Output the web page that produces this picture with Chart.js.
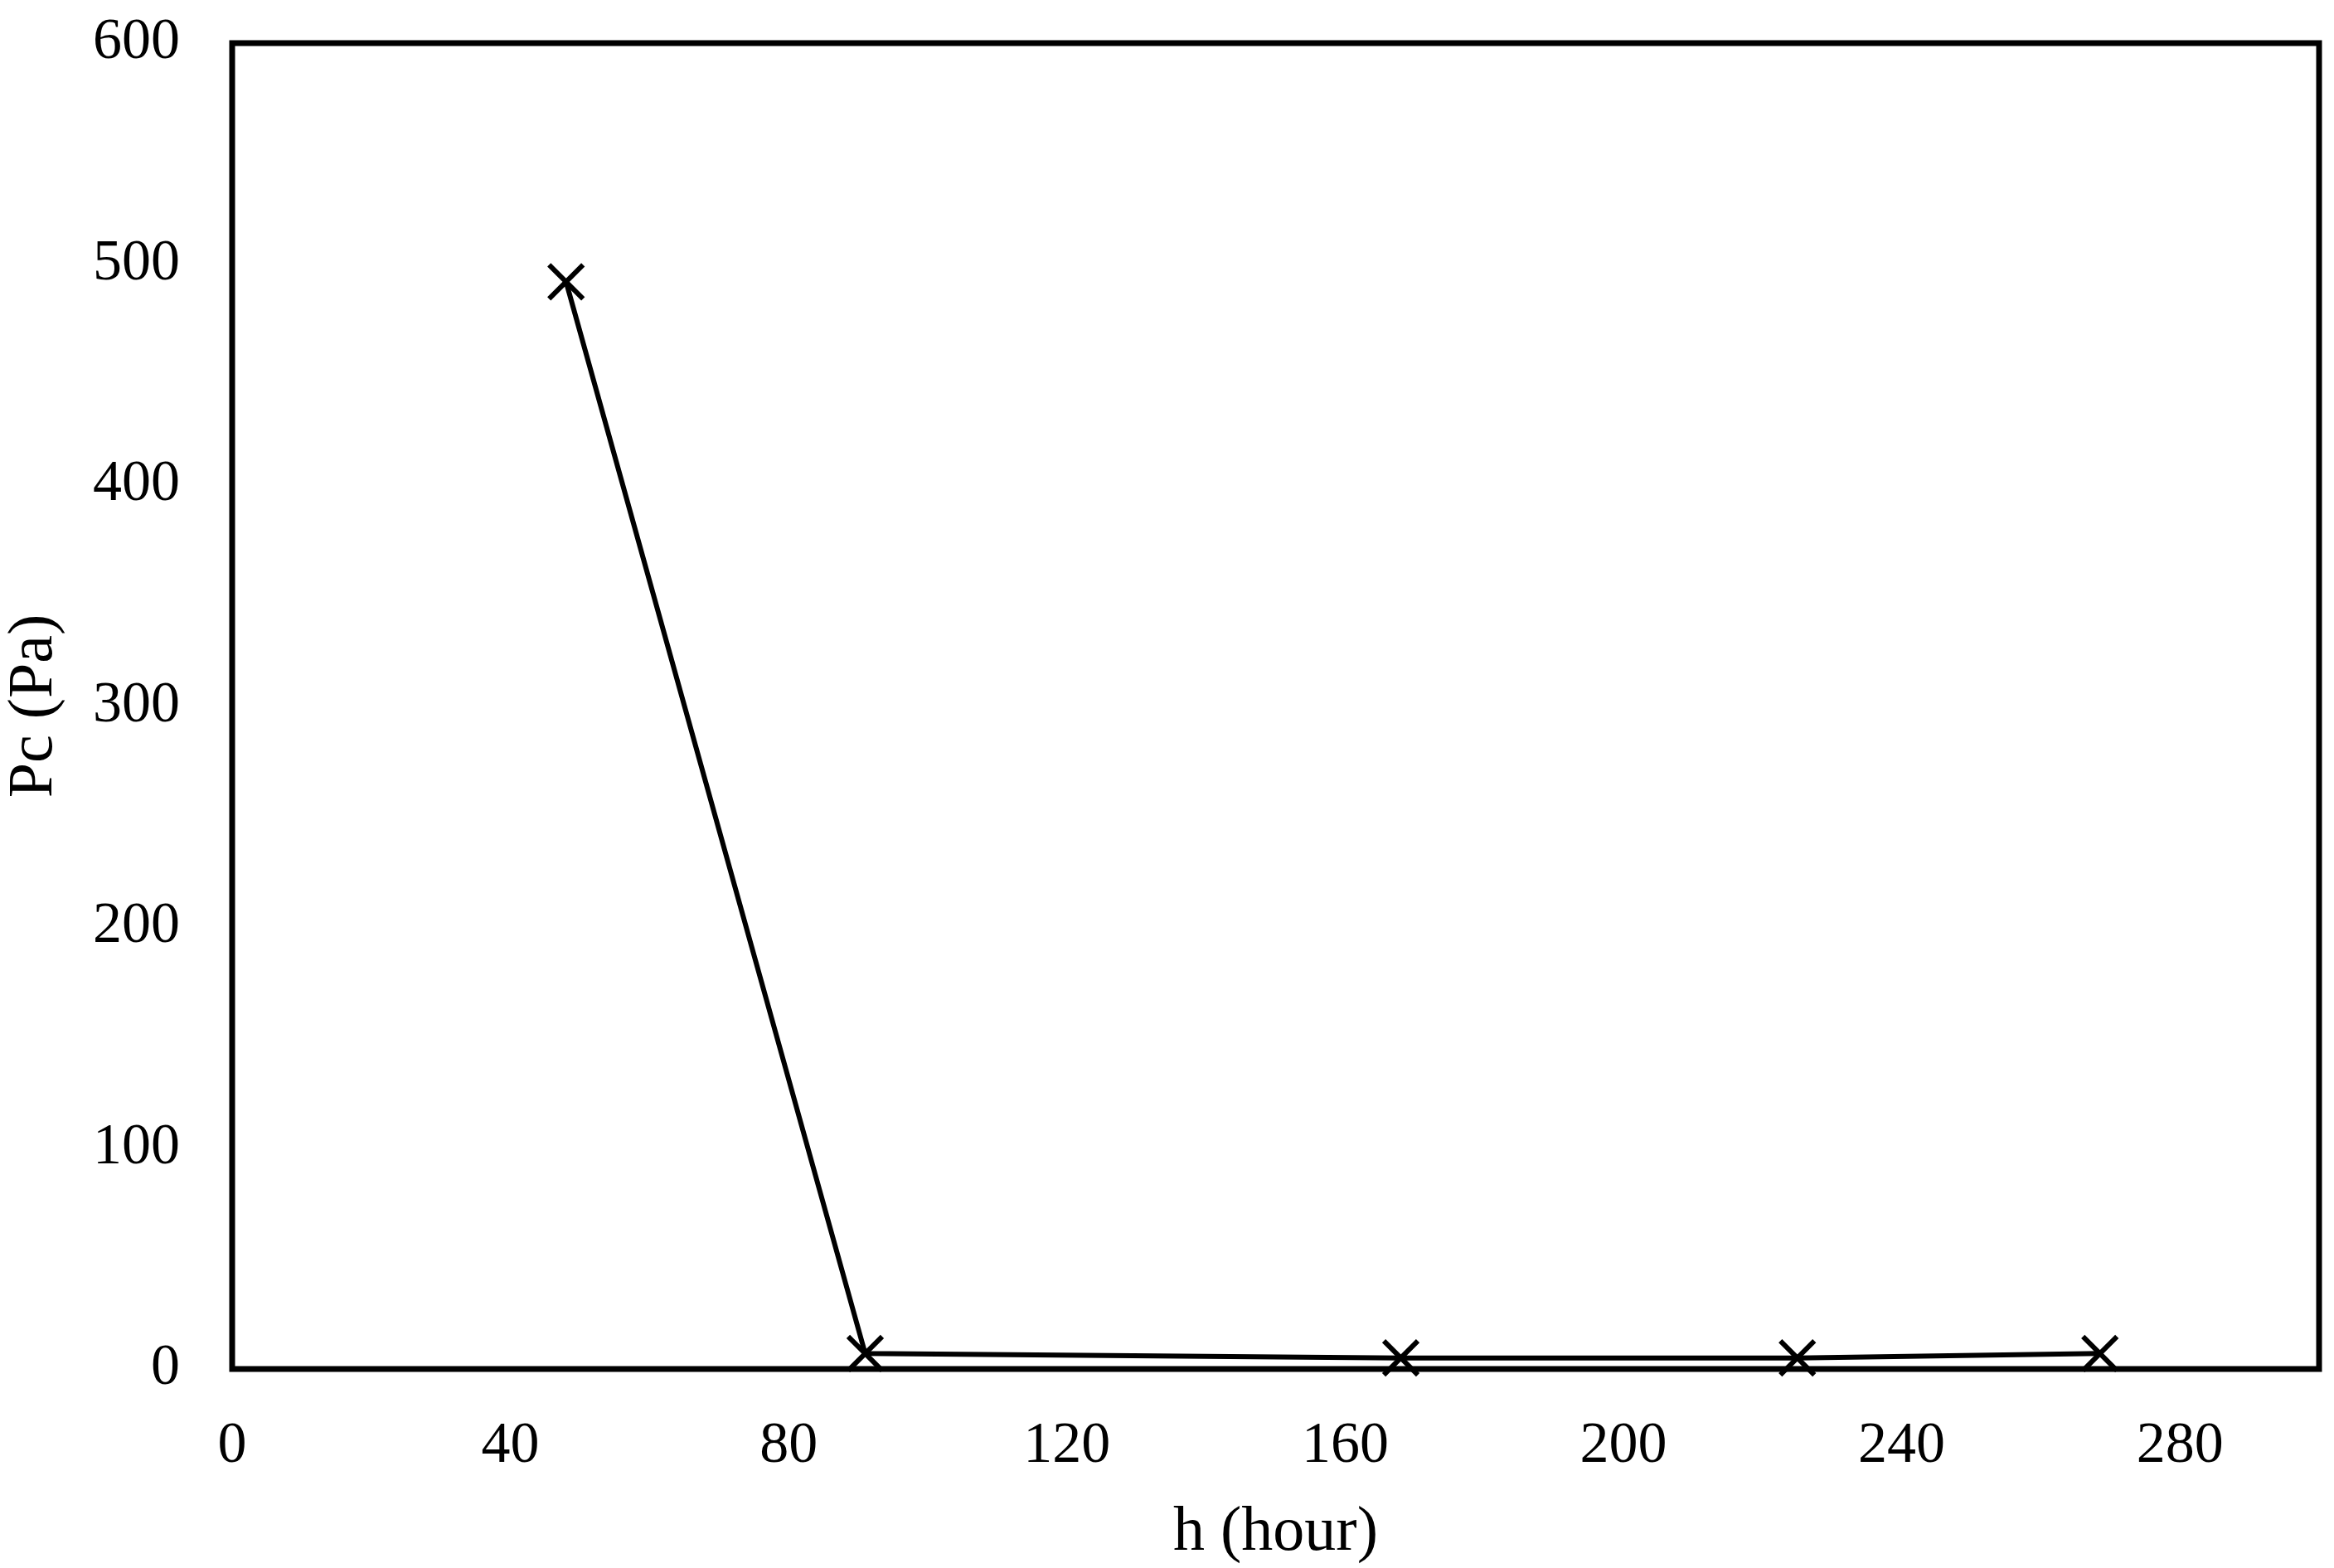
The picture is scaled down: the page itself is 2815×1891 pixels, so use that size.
<!DOCTYPE html>
<html>
<head>
<meta charset="utf-8">
<script src="https://cdn.jsdelivr.net/npm/chart.js@4"></script>
<style>
  html, body { margin: 0; padding: 0; background: #fff; overflow: hidden; }
  #wrap { width: 2815px; height: 1891px; }
</style>
</head>
<body>
<div id="wrap"><canvas id="c" width="2815" height="1891"></canvas></div>
<script>
const hours = [48, 91, 168, 225, 268.5];
const pc = [492, 7, 5, 5, 7];
const xTickValues = [0, 40, 80, 120, 160, 200, 240, 280];
const yTickValues = [0, 100, 200, 300, 400, 500, 600];
const xTitle = 'h (hour)';
const yTitle = 'Pc (Pa)';

const points = hours.map((h, i) => ({ x: h, y: pc[i] }));

const frame = {
  id: 'frame',
  afterDatasetsDraw(chart) {
    const a = chart.chartArea;
    const ctx = chart.ctx;
    ctx.save();
    ctx.strokeStyle = '#000';
    ctx.lineWidth = 7;
    ctx.strokeRect(a.left, a.top, a.right - a.left, a.bottom - a.top);
    ctx.restore();
  }
};

// widen the plot area on the right to where the reference puts its frame
const plotRight = 2797;
const stretch = {
  id: 'stretch',
  afterLayout(chart) {
    const a = chart.chartArea;
    const xs = chart.scales.x;
    if (a.right === plotRight) return;
    a.right = plotRight;
    a.width = a.right - a.left;
    xs.right = plotRight;
    xs.width = xs.right - xs.left;
    xs.configure();
  }
};

const zeroPad = () => ({ left: 0, top: 0, right: 0, bottom: 0 });
const font = 'Liberation Serif';

new Chart(document.getElementById('c'), {
  type: 'scatter',
  data: {
    datasets: [{
      data: points,
      showLine: true,
      borderColor: '#000',
      borderWidth: 6,
      pointStyle: 'crossRot',
      pointRadius: 29,
      pointBorderWidth: 6,
      pointBorderColor: '#000',
      pointBackgroundColor: '#000',
      clip: false
    }]
  },
  options: {
    responsive: false,
    animation: false,
    layout: { padding: { top: 52, right: 18, left: 0, bottom: 0 } },
    plugins: { legend: { display: false }, tooltip: { enabled: false } },
    scales: {
      x: {
        type: 'linear',
        min: 0, max: 300,
        grid: { display: false, drawTicks: false },
        border: { display: false },
        afterBuildTicks(s) { s.ticks = xTickValues.map(v => ({ value: v })); },
        afterFit(s) { s.height = 240; s.paddingLeft = 0; s.paddingRight = 0; s.getPadding = zeroPad; },
        ticks: { color: '#000', font: { family: font, size: 70 }, padding: 52, maxRotation: 0, autoSkip: false },
        title: { display: true, text: xTitle, color: '#000', font: { family: font, size: 76, lineHeight: 1.1 }, padding: 0 }
      },
      y: {
        type: 'linear',
        min: 0, max: 600,
        grid: { display: false, drawTicks: false },
        border: { display: false },
        afterBuildTicks(s) { s.ticks = yTickValues.map(v => ({ value: v })); },
        afterFit(s) { s.width = 280; s.paddingTop = 0; s.paddingBottom = 0; s.getPadding = zeroPad; },
        ticks: { color: '#000', font: { family: font, size: 70 }, padding: 63, autoSkip: false },
        title: { display: true, text: yTitle, color: '#000', font: { family: font, size: 76, lineHeight: 1.1 }, padding: 0 }
      }
    }
  },
  plugins: [stretch, frame]
});
</script>
</body>
</html>
